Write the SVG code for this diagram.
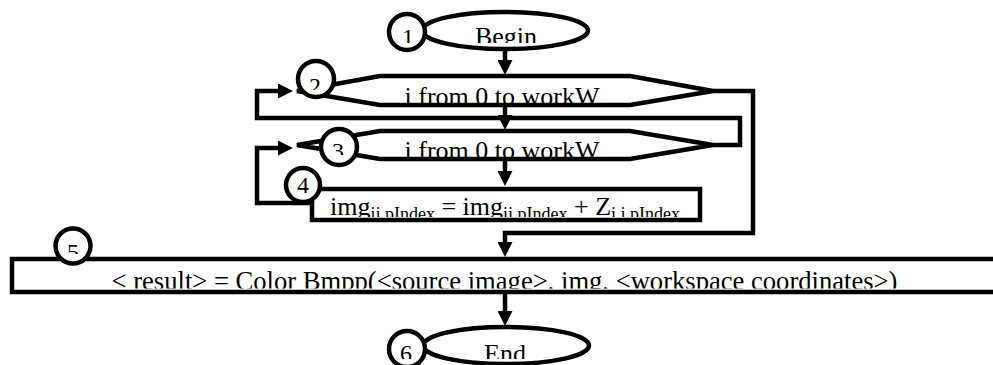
<svg xmlns="http://www.w3.org/2000/svg" width="993" height="365" viewBox="0 0 993 365">
  <style>
    .shape { fill: #ffffff; stroke: #000000; stroke-width: 4.5; }
    .num { fill: #ffffff; stroke: #000000; stroke-width: 4.5; }
    .edge { fill: none; stroke: #000000; stroke-width: 4.5; stroke-linejoin: miter; }
    .lbl { font-family: "Liberation Serif", "Times New Roman", serif; font-size: 26px; fill: #000000; text-anchor: middle; }
    .wide { font-size: 26.6px; }
    .dig { font-family: "Liberation Serif", "Times New Roman", serif; font-size: 24px; fill: #000000; text-anchor: middle; }
    .sub { font-size: 18px; }
  </style>
  <defs>
    <marker id="arrow" markerUnits="userSpaceOnUse" markerWidth="15" markerHeight="15" refX="7" refY="7.5" orient="auto">
      <path d="M0,0 L15,7.5 L0,15 Z" fill="#000000"/>
    </marker>
    <clipPath id="clipRow1" clipPathUnits="userSpaceOnUse"><rect x="0" y="0" width="993" height="43"/></clipPath>
    <clipPath id="clipHex2" clipPathUnits="userSpaceOnUse"><rect x="0" y="60" width="993" height="43"/></clipPath>
    <clipPath id="clipDig2" clipPathUnits="userSpaceOnUse"><rect x="0" y="60" width="993" height="30"/></clipPath>
    <clipPath id="clipHex3" clipPathUnits="userSpaceOnUse"><rect x="0" y="125" width="993" height="32"/></clipPath>
    <clipPath id="clipDig3" clipPathUnits="userSpaceOnUse"><rect x="0" y="125" width="993" height="30"/></clipPath>
    <clipPath id="clipBox4" clipPathUnits="userSpaceOnUse"><rect x="0" y="180" width="993" height="37"/></clipPath>
    <clipPath id="clipBox5" clipPathUnits="userSpaceOnUse"><rect x="0" y="262" width="993" height="26.5"/></clipPath>
    <clipPath id="clipDig5" clipPathUnits="userSpaceOnUse"><rect x="0" y="225" width="993" height="29"/></clipPath>
    <clipPath id="clipRow6" clipPathUnits="userSpaceOnUse"><rect x="0" y="320" width="993" height="39"/></clipPath>
  </defs>

  <!-- connectors -->
  <g id="connectors">
    <path class="edge" d="M505,49 L505,67" marker-end="url(#arrow)"/>
    <path class="edge" d="M505,105 L505,122" marker-end="url(#arrow)"/>
    <path class="edge" d="M505,159 L505,178" marker-end="url(#arrow)"/>
    <!-- inner loop return -->
    <path class="edge" d="M312,203 L257,203 L257,148 L285,148" marker-end="url(#arrow)"/>
    <!-- inner loop exit back to outer loop head -->
    <path class="edge" d="M713,145 L740,145 L740,118 L257,118 L257,91 L285,91" marker-end="url(#arrow)"/>
    <!-- outer loop exit -->
    <path class="edge" d="M713,91 L753,91 L753,233 L505,233 L505,249" marker-end="url(#arrow)"/>
    <path class="edge" d="M505,292 L505,318" marker-end="url(#arrow)"/>
  </g>

  <!-- 1: Begin -->
  <g id="node1">
    <ellipse class="shape" cx="505" cy="30.5" rx="83" ry="18.5"/>
    <text class="lbl" x="506" y="45" clip-path="url(#clipRow1)">Begin</text>
    <circle class="num" cx="407" cy="32" r="18"/>
    <text class="dig" x="408" y="45" clip-path="url(#clipRow1)">1</text>
  </g>

  <!-- 2: outer loop -->
  <g id="node2">
    <polygon class="shape" points="297,91 380,76 630,76 713,91 630,105 380,105"/>
    <text class="lbl" x="502" y="105" clip-path="url(#clipHex2)">i from 0 to workW</text>
    <circle class="num" cx="316" cy="79" r="18"/>
    <text class="dig" x="315" y="94" clip-path="url(#clipDig2)">2</text>
  </g>

  <!-- 3: inner loop -->
  <g id="node3">
    <polygon class="shape" points="297,145 380,131 630,131 713,145 630,159 380,159"/>
    <text class="lbl" x="502" y="159" clip-path="url(#clipHex3)">i from 0 to workW</text>
    <circle class="num" cx="339" cy="147" r="18"/>
    <text class="dig" x="338" y="159" clip-path="url(#clipDig3)">3</text>
  </g>

  <!-- 4: accumulation step -->
  <g id="node4">
    <rect class="shape" x="312" y="189" width="388" height="31"/>
    <text class="lbl" x="505" y="215" clip-path="url(#clipBox4)">img<tspan class="sub" dy="5">ij,pIndex</tspan><tspan dy="-5"> = img</tspan><tspan class="sub" dy="5">ij,pIndex</tspan><tspan dy="-5"> + Z</tspan><tspan class="sub" dy="5">i,j,pIndex</tspan></text>
    <circle class="num" cx="303" cy="185" r="17"/>
    <text class="dig" x="303" y="193">4</text>
  </g>

  <!-- 5: result -->
  <g id="node5">
    <rect class="shape" x="12" y="259" width="1000" height="33"/>
    <text class="lbl wide" x="504.5" y="290" clip-path="url(#clipBox5)">&lt; result&gt; = Color Bmpp(&lt;source image&gt;, img, &lt;workspace coordinates&gt;)</text>
    <circle class="num" cx="73" cy="246" r="17.5"/>
    <text class="dig" x="73" y="260" clip-path="url(#clipDig5)">5</text>
  </g>

  <!-- 6: End -->
  <g id="node6">
    <ellipse class="shape" cx="506" cy="345.5" rx="83" ry="18.5"/>
    <text class="lbl" x="505" y="362" clip-path="url(#clipRow6)">End</text>
    <circle class="num" cx="407" cy="349" r="18"/>
    <text class="dig" x="406" y="361" clip-path="url(#clipRow6)">6</text>
  </g>
</svg>
